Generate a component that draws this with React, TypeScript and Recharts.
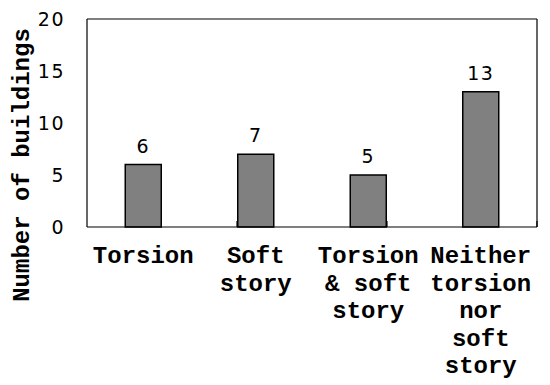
import { Bar, BarChart, LabelList, XAxis, YAxis } from "recharts";

const categories = [
  "Torsion",
  "Soft\nstory",
  "Torsion\n& soft\nstory",
  "Neither\ntorsion\nnor\nsoft\nstory",
];
const buildings = [6, 7, 5, 13];
const yTicks = [0, 5, 10, 15, 20];
const boundaryTicks = [1, 2, 3];

const data = categories.map((name, i) => ({ name, count: buildings[i] }));

const MONO = "'Liberation Mono', 'Courier New', monospace";
const NUM = "'DejaVu Sans', Verdana, sans-serif";
const LINE = { stroke: "#000", strokeWidth: 1.2 };

function CategoryTick({ x, y, payload }: any) {
  const lines = String(payload.value).split("\n");
  return (
    <text
      x={x}
      y={y + 36}
      textAnchor="middle"
      fontFamily={MONO}
      fontWeight="bold"
      fontSize={24}
      fill="#000"
    >
      {lines.map((line, i) => (
        <tspan key={i} x={x} dy={i === 0 ? 0 : 27.5}>
          {line}
        </tspan>
      ))}
    </text>
  );
}

function AxisTitle({ viewBox }: any) {
  const cx = viewBox.x + 22;
  const cy = viewBox.y + viewBox.height / 2 + 42;
  return (
    <text
      x={cx}
      y={cy}
      transform={`rotate(-90, ${cx}, ${cy})`}
      textAnchor="middle"
      dominantBaseline="central"
      fontFamily={MONO}
      fontWeight="bold"
      fontSize={24}
      fill="#000"
    >
      Number of buildings
    </text>
  );
}

const NoTick = () => <g />;

export default function App() {
  return (
    <div style={{ position: "absolute", left: 0, top: 0, background: "#fff" }}>
      <BarChart
        width={550}
        height={385}
        data={data}
        margin={{ top: 18, right: 12, bottom: 0, left: 0 }}
        barCategoryGap="34%"
      >
        {/* inward ticks at category boundaries */}
        <XAxis
          xAxisId="grid"
          type="number"
          domain={[0, 4]}
          ticks={boundaryTicks}
          height={1}
          mirror
          tick={NoTick}
          tickSize={6}
          axisLine={false}
          tickLine={LINE}
        />
        <XAxis
          dataKey="name"
          height={158}
          interval={0}
          tickSize={0}
          tickMargin={0}
          tickLine={false}
          axisLine={LINE}
          tick={<CategoryTick />}
        />
        <XAxis
          xAxisId="top"
          orientation="top"
          dataKey="name"
          height={1}
          tick={false}
          tickLine={false}
          axisLine={LINE}
        />
        {/* inward ticks on the value axis */}
        <YAxis
          yAxisId="inner"
          width={1}
          domain={[0, 20]}
          ticks={yTicks}
          interval={0}
          mirror
          tick={NoTick}
          tickSize={6}
          axisLine={false}
          tickLine={LINE}
        />
        <YAxis
          width={87}
          domain={[0, 20]}
          ticks={yTicks}
          interval={0}
          tickSize={0}
          tickMargin={22}
          axisLine={LINE}
          tickLine={false}
          tick={{ fontFamily: NUM, fontSize: 19, fill: "#000", letterSpacing: 1.5 }}
          label={<AxisTitle />}
        />
        <YAxis
          yAxisId="right"
          orientation="right"
          width={1}
          domain={[0, 20]}
          tick={false}
          tickLine={false}
          axisLine={LINE}
        />
        <Bar
          dataKey="count"
          fill="#808080"
          stroke="#000"
          strokeWidth={1.5}
          isAnimationActive={false}
        >
          <LabelList
            dataKey="count"
            position="top"
            offset={12}
            fontFamily={NUM}
            fontSize={19}
            fill="#000"
            letterSpacing={1.5}
          />
        </Bar>
      </BarChart>
    </div>
  );
}
